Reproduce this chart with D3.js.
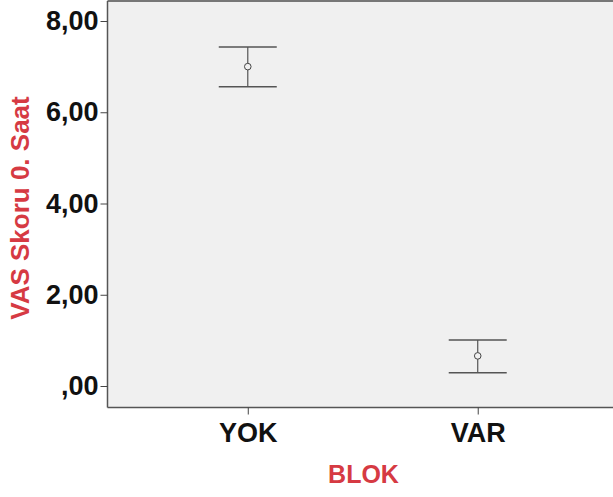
<!DOCTYPE html>
<html><head><meta charset="utf-8">
<script src="https://cdn.jsdelivr.net/npm/d3@7"></script>
<style>body{margin:0;background:#fff}svg{display:block}</style>
</head><body>
<script>
const categories = ["YOK", "VAR"];
const means = [7.0, 0.66];
const upper = [7.43, 1.01];
const lower = [6.56, 0.29];
const yTicks = [0, 2, 4, 6, 8];
const yTickLabels = [",00", "2,00", "4,00", "6,00", "8,00"];
const xTitle = "BLOK";
const yTitle = "VAS Skoru 0. Saat";

(function () {
const W = 613, H = 497;
const pLeft = 107.5, pRight = 618, pTop = 1, pBottom = 407.5;
const svg = d3.select("body").append("svg").attr("width", W).attr("height", H);

const y = d3.scaleLinear().domain([0, 8]).range([386, 21]);
const x = d3.scalePoint().domain(categories).range([pLeft, pRight]).padding(0.61);

svg.append("rect").attr("x", pLeft).attr("y", pTop).attr("width", pRight - pLeft).attr("height", pBottom - pTop)
  .attr("fill", "#f0f0f0");
svg.append("line").attr("x1", pLeft).attr("x2", pRight).attr("y1", pTop).attr("y2", pTop)
  .attr("stroke", "#777").attr("stroke-width", 2);

const font = "'Liberation Sans', Arial, sans-serif";

const yAxis = svg.append("g").attr("transform", `translate(${pLeft},0)`)
  .call(d3.axisLeft(y).tickValues(yTicks).tickFormat((d, i) => yTickLabels[i]).tickSize(7).tickPadding(2));
yAxis.select(".domain").attr("d", `M0,${pTop}V${pBottom}`).attr("stroke", "#555").attr("stroke-width", 1.5);
yAxis.selectAll(".tick line").attr("stroke", "#444");
yAxis.selectAll("text").attr("font-family", font).attr("font-weight", "bold").attr("font-size", 27).attr("fill", "#111");

const xAxis = svg.append("g").attr("transform", `translate(0,${pBottom})`)
  .call(d3.axisBottom(x).tickSize(7).tickPadding(8));
xAxis.select(".domain").attr("d", `M${pLeft},0H${pRight}`).attr("stroke", "#555").attr("stroke-width", 1.5);
xAxis.selectAll(".tick line").attr("stroke", "#444");
xAxis.selectAll("text").attr("font-family", font).attr("font-weight", "bold").attr("font-size", 27).attr("fill", "#111");

const g = svg.append("g");
categories.forEach((c, i) => {
  const cx = x(c);
  g.append("line").attr("x1", cx).attr("x2", cx).attr("y1", y(upper[i])).attr("y2", y(lower[i]))
    .attr("stroke", "#555").attr("stroke-width", 1.2);
  [upper[i], lower[i]].forEach(v => {
    g.append("line").attr("x1", cx - 29).attr("x2", cx + 29).attr("y1", y(v)).attr("y2", y(v))
      .attr("stroke", "#555").attr("stroke-width", 1.5);
  });
  g.append("circle").attr("cx", cx).attr("cy", y(means[i])).attr("r", 3.3)
    .attr("fill", "#f0f0f0").attr("stroke", "#444").attr("stroke-width", 1);
});

svg.append("text").attr("x", 363.5).attr("y", 483).attr("text-anchor", "middle")
  .attr("font-family", font).attr("font-weight", "bold").attr("font-size", 25).attr("fill", "#d63a43").text(xTitle);
svg.append("text").attr("transform", "translate(29,208) rotate(-90)").attr("text-anchor", "middle")
  .attr("font-family", font).attr("font-weight", "bold").attr("font-size", 26).attr("fill", "#d63a43").text(yTitle);
})();
</script>
</body></html>
